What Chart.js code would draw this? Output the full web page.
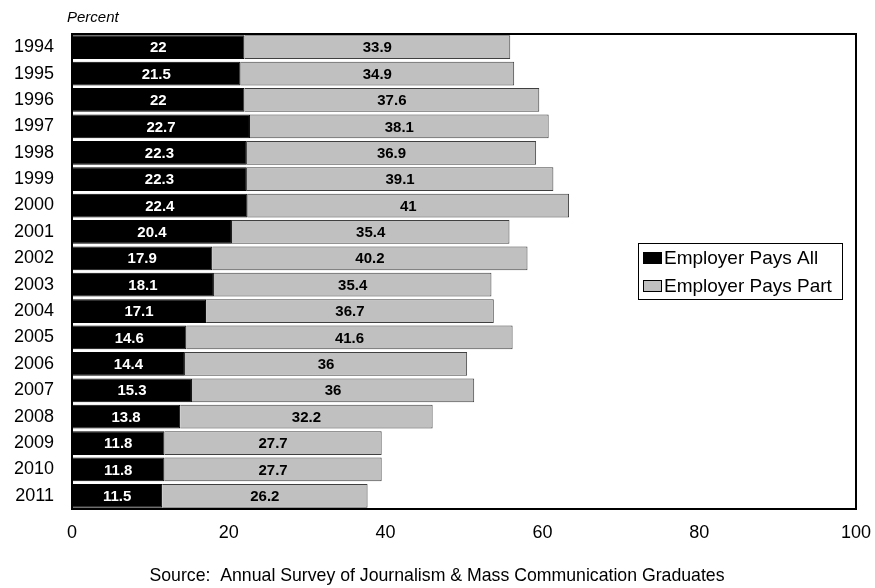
<!DOCTYPE html>
<html><head><meta charset="utf-8">
<script src="https://cdn.jsdelivr.net/npm/chart.js@4"></script>
<style>html,body{margin:0;padding:0;background:#fff}#wrap{width:875px;height:588px}</style>
</head><body><div id="wrap"><canvas id="c" width="875" height="588"></canvas></div>
<script>
const years = ["1994","1995","1996","1997","1998","1999","2000","2001","2002","2003","2004","2005","2006","2007","2008","2009","2010","2011"];
const paysAll = [22,21.5,22,22.7,22.3,22.3,22.4,20.4,17.9,18.1,17.1,14.6,14.4,15.3,13.8,11.8,11.8,11.5];
const paysPart = [33.9,34.9,37.6,38.1,36.9,39.1,41,35.4,40.2,35.4,36.7,41.6,36,36,32.2,27.7,27.7,26.2];
const xTicks = [0,20,40,60,80,100];
const seriesNames = ["Employer Pays All","Employer Pays Part"];
const axisTitle = "Percent";
const sourceText = "Source:  Annual Survey of Journalism & Mass Communication Graduates";

const FONT = "'Liberation Sans', Arial, sans-serif";

const decor = {
  id: 'decor',
  afterDatasetsDraw(chart) {
    const ctx = chart.ctx, a = chart.chartArea;
    ctx.save();
    chart.data.datasets.forEach((ds, di) => {
      const meta = chart.getDatasetMeta(di);
      meta.data.forEach((bar, i) => {
        const cx = (bar.x + bar.base) / 2;
        ctx.font = "bold 15px " + FONT;
        ctx.fillStyle = di === 0 ? '#ffffff' : '#000000';
        ctx.textAlign = 'center';
        ctx.textBaseline = 'middle';
        ctx.fillText(String(ds.data[i]), cx, bar.y + 1);
      });
    });
    ctx.strokeStyle = '#000';
    ctx.lineWidth = 2;
    ctx.strokeRect(a.left, a.top, a.right - a.left, a.bottom - a.top);
    const lx = 638, ly = 243, lw = 204, lh = 56;
    ctx.fillStyle = '#fff';
    ctx.fillRect(lx, ly, lw, lh);
    ctx.lineWidth = 1;
    ctx.strokeStyle = '#000';
    ctx.strokeRect(lx + 0.5, ly + 0.5, lw, lh);
    chart.data.datasets.forEach((ds, di) => {
      const y = 258 + di * 28;
      ctx.fillStyle = ds.backgroundColor;
      ctx.fillRect(643.5, y - 5.5, 18, 11);
      ctx.strokeStyle = '#000';
      ctx.strokeRect(643.5, y - 5.5, 18, 11);
      ctx.fillStyle = '#000';
      ctx.font = "19px " + FONT;
      ctx.textAlign = 'left';
      ctx.textBaseline = 'middle';
      ctx.fillText(ds.label, 664, y + 1);
    });
    ctx.font = "italic 15px " + FONT;
    ctx.textAlign = 'left';
    ctx.textBaseline = 'middle';
    ctx.fillStyle = '#000';
    ctx.fillText(axisTitle, 67, 18);
    ctx.font = "17.7px " + FONT;
    ctx.textAlign = 'center';
    ctx.fillText(sourceText, 437, 576);
    ctx.restore();
  }
};

new Chart(document.getElementById('c'), {
  type: 'bar',
  data: {
    labels: years,
    datasets: [
      { label: seriesNames[0], data: paysAll, backgroundColor: '#000000', borderColor: '#000000', borderWidth: 1, barPercentage: 0.9, categoryPercentage: 1 },
      { label: seriesNames[1], data: paysPart, backgroundColor: '#c0c0c0', borderColor: '#404040', borderWidth: 1, barPercentage: 0.9, categoryPercentage: 1 }
    ]
  },
  options: {
    indexAxis: 'y',
    responsive: false,
    animation: false,
    devicePixelRatio: 1,
    layout: { padding: { left: 0, right: 19, top: 34, bottom: 0 } },
    plugins: { legend: { display: false }, tooltip: { enabled: false } },
    scales: {
      x: {
        stacked: true, min: 0, max: 100,
        afterBuildTicks(s) { s.ticks = xTicks.map(v => ({ value: v })); },
        afterFit(s) { s.height = 79; s.paddingLeft = 0; s.paddingRight = 0; },
        grid: { display: false, drawTicks: false },
        border: { display: false },
        ticks: { font: { family: FONT, size: 18 }, color: '#000', padding: 13, maxRotation: 0 }
      },
      y: {
        stacked: true,
        afterFit(s) { s.width = 72; s.paddingTop = 0; s.paddingBottom = 0; },
        grid: { display: false, drawTicks: false },
        border: { display: false },
        ticks: { font: { family: FONT, size: 18 }, color: '#000', padding: 18 }
      }
    }
  },
  plugins: [decor]
});
</script>
</body></html>
